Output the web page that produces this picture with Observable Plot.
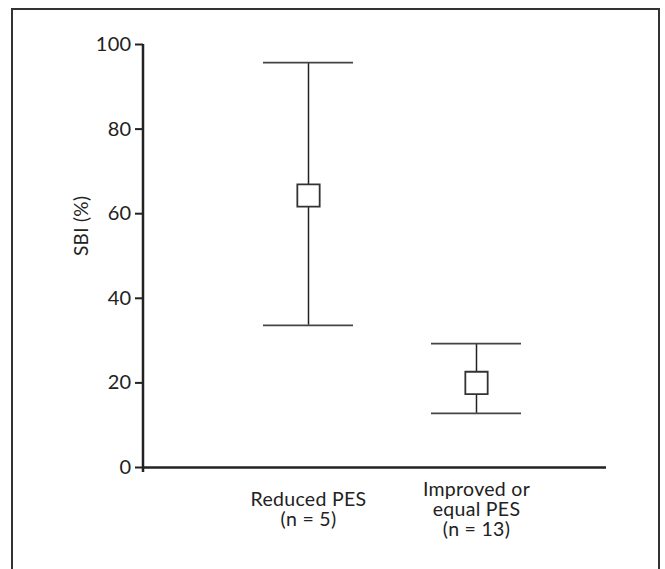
<!DOCTYPE html>
<html>
<head>
<meta charset="utf-8">
<script src="https://cdn.jsdelivr.net/npm/d3@7"></script>
<script src="https://cdn.jsdelivr.net/npm/@observablehq/plot@0.6"></script>
<style>
  html, body { margin: 0; padding: 0; background: #fff; }
  #wrap { position: relative; width: 665px; height: 569px; overflow: hidden; }
  #border { position: absolute; left: 11px; top: 8px; width: 645px; height: 600px; border: 2.5px solid #333; box-sizing: content-box; }
  #chart { position: absolute; left: 0; top: 0; }
</style>
</head>
<body>
<div id="wrap"><div id="border"></div><div id="chart"></div></div>
<script>
// Data
const groups = ["Reduced PES", "Improved or equal PES"];
const groupLabels = ["Reduced PES\n(n = 5)", "Improved or\nequal PES\n(n = 13)"];
const centers = [64.3, 20.0];
const lows = [33.6, 12.8];
const highs = [95.7, 29.3];
const yTicks = [0, 20, 40, 60, 80, 100];
const yLabel = "SBI (%)";

const data = groups.map((g, i) => ({group: g, label: groupLabels[i], mid: centers[i], lo: lows[i], hi: highs[i]}));

const font = "Lato, 'Noto Sans', sans-serif";
const chart = Plot.plot({
  width: 665,
  height: 569,
  marginLeft: 143,
  marginRight: 59,
  marginTop: 44,
  marginBottom: 102,
  style: {fontFamily: font, fontSize: "20px", color: "#222", background: "transparent", letterSpacing: "0.3px"},
  x: {type: "band", domain: groups, range: [263, 521], paddingInner: 0.4643, paddingOuter: 0, axis: null},
  y: {domain: [0, 100], axis: null},
  marks: [
    Plot.axisY({ticks: yTicks, tickSize: 8, tickPadding: 4, tickFormat: d => d, stroke: "#222", strokeWidth: 2, fontSize: 20, label: null}),
    Plot.ruleY([0], {stroke: "#222", strokeWidth: 2.5}),
    Plot.ruleX(data, {x: "group", y1: "lo", y2: "hi", stroke: "#222", strokeWidth: 1.5}),
    Plot.tickY(data, {x: "group", y: "lo", stroke: "#444", strokeWidth: 1.8}),
    Plot.tickY(data, {x: "group", y: "hi", stroke: "#444", strokeWidth: 1.8}),
    Plot.dot(data, {x: "group", y: "mid", symbol: "square", r: 12.6, fill: "white", stroke: "#333", strokeWidth: 1.8}),
    Plot.text(data, {x: "group", text: "label", frameAnchor: "bottom", dy: 42, lineAnchor: "middle", lineHeight: 1.04, fontSize: 19.5, fill: "#222"}),
    Plot.text([yLabel], {text: d => d, frameAnchor: "left", rotate: -90, dx: -62, dy: 0, fontSize: 19, fill: "#222"})
  ]
});
document.getElementById("chart").appendChild(chart);

// y axis line drawn through the y scale
const ys = chart.scale("y");
const svg = d3.select(chart);
svg.append("line")
  .attr("x1", 143).attr("x2", 143)
  .attr("y1", ys.apply(100)).attr("y2", ys.apply(0) + 5)
  .attr("stroke", "#222").attr("stroke-width", 2.5);
</script>
</body>
</html>
